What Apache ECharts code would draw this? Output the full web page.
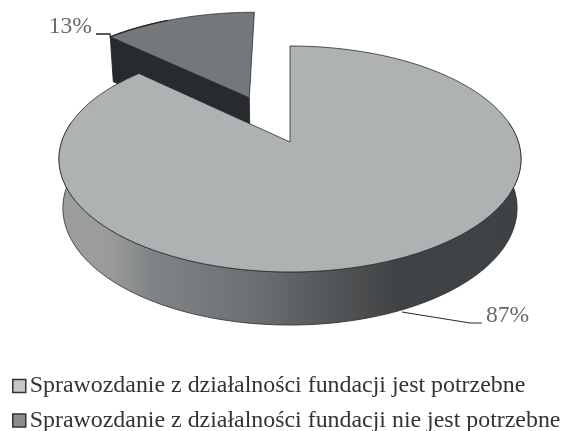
<!DOCTYPE html>
<html><head><meta charset="utf-8">
<style>html,body{margin:0;padding:0;background:#fff}#c{width:563px;height:431px}</style>
<script src="https://cdn.jsdelivr.net/npm/echarts@6/dist/echarts.min.js"></script>
</head><body><div id="c"></div>
<script>
const categories = ['Sprawozdanie z działalności fundacji jest potrzebne','Sprawozdanie z działalności fundacji nie jest potrzebne'];
const values = [87, 13];
const total = values[0] + values[1];

// projection of the tilted disc onto the page
const CX = 290, CY = 142, RX = 228.4, A = 89.08, C = -0.1504, EXPLODE = 0.465, SHRINK = 0.983;
function project(u, v){ const d = 1 + C*v; return [CX + RX*u/d, (A*v + CY)/d]; }
function lower(p){ return [CX + (p[0]-CX)*SHRINK, p[1] + 44 + (p[1]-13)*0.035]; }
function disc(aDeg, ou, ov){ const a = aDeg*Math.PI/180; return project(ou + Math.sin(a), ov - Math.cos(a)); }
function arc(a0, a1, ou, ov){ const n = 120, out = []; for(let i=0;i<=n;i++) out.push(disc(a0+(a1-a0)*i/n, ou, ov)); return out; }

const bigEnd = values[0]/total*360;
const edge = {stroke:'#2a2c2e', lineWidth:0.8};
const pctFont = '23.6px "Liberation Serif"';

function px(api, pts){ return pts.map(p => api.coord(p)); }

function renderBig(params, api){
  const top = [[CX,CY]].concat(arc(0, bigEnd, 0, 0));
  const front = arc(80, 280, 0, 0);
  const wall = front.concat(front.slice().reverse().map(lower));
  const a = px(api,[[402,312],[470,323],[482,323]]);
  const t = api.coord([486,316]);
  return {type:'group', children:[
    {type:'polygon', shape:{points:px(api,wall)}, style:Object.assign({fill:new echarts.graphic.LinearGradient(0,0,1,0,[
      {offset:0,color:'#9c9e9e'},{offset:0.11,color:'#9a9b9b'},{offset:0.2,color:'#818486'},
      {offset:0.42,color:'#6c7072'},{offset:0.66,color:'#4a4c4e'},{offset:0.74,color:'#404345'},{offset:1,color:'#3f4244'}])},edge)},
    {type:'polygon', shape:{points:px(api,top)}, style:Object.assign({fill:'#afb2b2'},edge)},
    {type:'polyline', shape:{points:a}, style:{stroke:'#2a2c2e',lineWidth:1.2,fill:null}},
    {type:'text', style:{text:api.value(0)+'%',x:t[0],y:t[1],fill:'#666a6c',font:pctFont,verticalAlign:'middle'}}
  ]};
}
function renderSmall(params, api){
  const mid = (bigEnd+360)/2*Math.PI/180;
  const ou = Math.sin(mid)*EXPLODE - 0.005, ov = -Math.cos(mid)*EXPLODE;
  const apex = project(ou, ov);
  const rim = arc(bigEnd, 360, ou, ov);
  const start = rim[0];
  const heavy = [[96,34],[110,34]].concat(rim.slice(0,52));
  const t = api.coord([92,27]);
  return {type:'group', children:[
    {type:'polygon', shape:{points:px(api,[start,apex,lower(apex),lower(start)])}, style:{fill:'#282b2e',stroke:'#1c1e20',lineWidth:0.8}},
    {type:'polygon', shape:{points:px(api,[apex].concat(rim))}, style:Object.assign({fill:'#74787a'},edge)},
    {type:'polyline', shape:{points:px(api,heavy)}, style:{stroke:'#2a2426',lineWidth:1.3,fill:null}},
    {type:'text', style:{text:api.value(0)+'%',x:t[0],y:t[1],fill:'#666a6c',font:pctFont,align:'right',verticalAlign:'middle'}}
  ]};
}

const chart = echarts.init(document.getElementById('c'), null, {renderer:'canvas'});
chart.setOption({
  animation:false,
  backgroundColor:'#fff',
  grid:{left:0,right:0,top:0,bottom:0},
  xAxis:{type:'value',min:0,max:563,show:false},
  yAxis:{type:'value',min:0,max:431,inverse:true,show:false},
  legend:{
    orient:'vertical',left:12,top:374,height:80,padding:0,itemWidth:13,itemHeight:13,itemGap:10.5,selectedMode:false,
    textStyle:{fontFamily:'Liberation Serif',fontSize:23.9,color:'#333',padding:[0,0,0,-1]},
    data:[
      {name:categories[0],icon:'rect',itemStyle:{color:'#c6c8c8',borderColor:'#333',borderWidth:1.5}},
      {name:categories[1],icon:'rect',itemStyle:{color:'#8a8c8e',borderColor:'#333',borderWidth:1.5}}
    ]
  },
  series:[
    {type:'custom',name:categories[1],coordinateSystem:'cartesian2d',clip:false,z:2,silent:true,renderItem:renderSmall,data:[[values[1]]],encode:{x:0,y:0}},
    {type:'custom',name:categories[0],coordinateSystem:'cartesian2d',clip:false,z:3,silent:true,renderItem:renderBig,data:[[values[0]]],encode:{x:0,y:0}}
  ]
});
</script></body></html>
